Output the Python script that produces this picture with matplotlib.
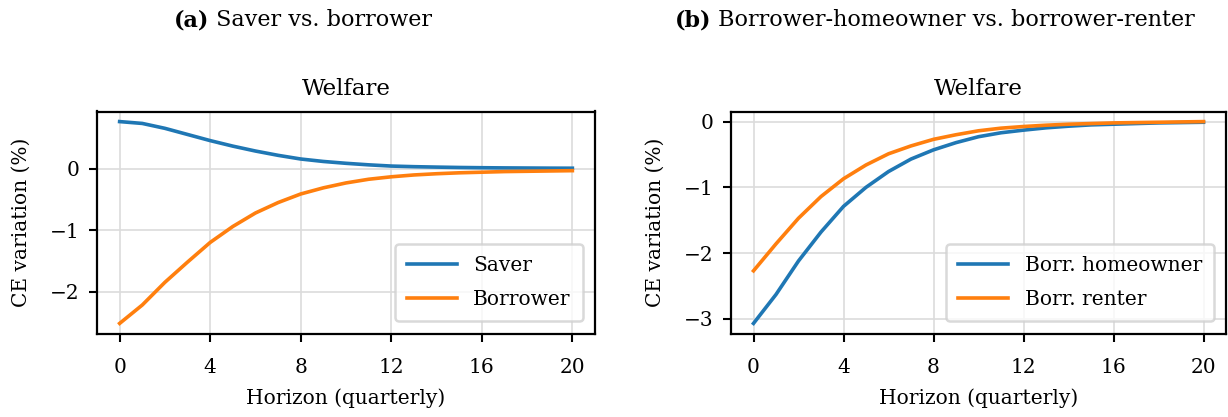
import matplotlib
matplotlib.use("Agg")
import matplotlib.pyplot as plt
import numpy as np

horizon = list(range(21))

saver = [0.77, 0.74, 0.66, 0.56, 0.46, 0.37, 0.29, 0.22, 0.16, 0.12, 0.09,
         0.065, 0.045, 0.035, 0.028, 0.022, 0.018, 0.015, 0.013, 0.011, 0.01]
borrower = [-2.52, -2.22, -1.85, -1.52, -1.20, -0.94, -0.72, -0.55, -0.41, -0.31,
            -0.23, -0.17, -0.13, -0.10, -0.08, -0.065, -0.055, -0.045, -0.04,
            -0.035, -0.03]

homeowner = [-3.07, -2.63, -2.12, -1.68, -1.29, -1.00, -0.76, -0.57, -0.43, -0.32,
             -0.23, -0.17, -0.13, -0.095, -0.07, -0.05, -0.04, -0.03, -0.02,
             -0.015, -0.01]
renter = [-2.27, -1.86, -1.47, -1.14, -0.87, -0.66, -0.49, -0.37, -0.27, -0.20,
          -0.14, -0.10, -0.075, -0.055, -0.04, -0.03, -0.02, -0.015, -0.01,
          -0.005, 0.0]

xticks = [0, 4, 8, 12, 16, 20]

panels = [
    ("(a)", "Saver vs. borrower", [("Saver", saver), ("Borrower", borrower)]),
    ("(b)", "Borrower-homeowner vs. borrower-renter",
     [("Borr. homeowner", homeowner), ("Borr. renter", renter)]),
]

plt.rcParams["font.family"] = ["DejaVu Serif"]
plt.rcParams["font.size"] = 14.5

W, H = 1228, 417
fig = plt.figure(figsize=(W / 100, H / 100), dpi=100)

axes_px = [(97, 595), (731, 1226)]
top_px, bot_px = 111.5, 333.5
header_cx = [303, 935]
colors = ["#1f77b4", "#ff7f0e"]

axes = []
for (x0, x1) in axes_px:
    ax = fig.add_axes([x0 / W, 1 - bot_px / H, (x1 - x0) / W, (bot_px - top_px) / H])
    axes.append(ax)

for ax, (tag, caption, series) in zip(axes, panels):
    for (label, vals), c in zip(series, colors):
        ax.plot(horizon, vals, color=c, lw=2.6, label=label)
    ax.set_xticks(xticks)
    ax.set_title("Welfare", fontsize=16.5, pad=12)
    ax.set_xlabel("Horizon (quarterly)", labelpad=8)
    ax.set_ylabel("CE variation (%)", labelpad=14)
    ax.grid(True, color="#dcdcdc", lw=1.2)
    ax.set_axisbelow(True)
    for s in ax.spines.values():
        s.set_linewidth(1.6)
    ax.tick_params(width=1.5, length=5.5, labelsize=14.5)
    ax.tick_params(axis="x", pad=12)
    ax.tick_params(axis="y", pad=7)
    ax.legend(loc="lower right", handlelength=2.5, handletextpad=0.8,
              fontsize=14.5, framealpha=0.8, edgecolor="#d0d0d0",
              borderpad=0.6, labelspacing=0.75, borderaxespad=0.6)
    ax.get_legend().get_frame().set_linewidth(1.8)

axes[0].set_yticks([-2, -1, 0])
axes[1].set_yticks([-3, -2, -1, 0])

# Panel captions: bold tag followed by regular text, centred as a whole
fig.canvas.draw()
renderer = fig.canvas.get_renderer()
for (tag, caption, _), cx in zip(panels, header_cx):
    t1 = fig.text(0, 1 - 20 / H, tag, fontsize=16, fontweight="bold", va="center", ha="left")
    t2 = fig.text(0, 1 - 20 / H, " " + caption, fontsize=16, va="center", ha="left")
    w1 = t1.get_window_extent(renderer).width
    w2 = t2.get_window_extent(renderer).width
    left = cx - (w1 + w2) / 2
    t1.set_x(left / W)
    t2.set_x((left + w1) / W)

fig.savefig("out.png", dpi=100)
